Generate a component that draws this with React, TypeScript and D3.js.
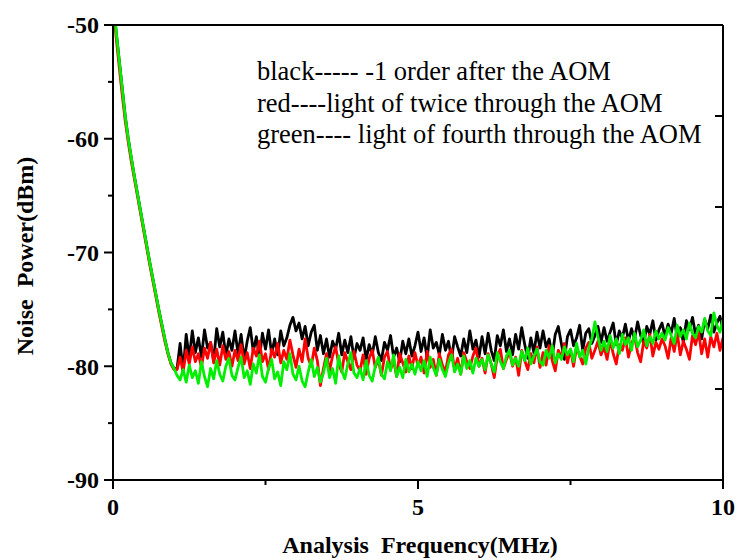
import React from "react";
import * as d3 from "d3";

const rollFreq = [0, 0.05, 0.1, 0.15, 0.2, 0.25, 0.3, 0.35, 0.4, 0.45, 0.5, 0.55, 0.6, 0.65, 0.7, 0.75, 0.8, 0.85, 0.9, 0.95, 1.0];
const rollOff = [-47.5, -50.5, -53, -55.5, -58, -60, -61.7, -63.3, -64.8, -66.3, -67.8, -69.3, -70.8, -72.2, -73.6, -75, -76.3, -77.6, -78.8, -79.7, -80.2];
const rollOffRed = [-48, -51, -53.6, -56.1, -58.4, -60.3, -62, -63.5, -65, -66.5, -68, -69.5, -71, -72.4, -73.8, -75.2, -76.5, -77.8, -78.9, -79.8, -80.3];

const blackNoise = [
  -80.2, -78.0, -80.4, -77.2, -79.3, -76.9, -78.8, -77.5, -79.2, -76.8, -78.4, -77.9, -79.5, -76.7, -78.3, -77.0, -79.1, -77.6, -78.6, -76.9,
  -78.9, -77.2, -79.4, -77.8, -76.6, -78.7, -77.4, -79.3, -77.1, -78.5, -76.8, -78.9, -77.6, -79.0, -76.9, -78.2, -77.5, -76.4, -75.7, -76.9,
  -76.2, -77.6, -76.5, -78.2, -77.0, -76.4, -78.6, -77.3, -78.9, -77.6, -79.2, -77.8, -78.5, -77.1, -79.0, -77.7, -78.8, -77.4, -79.3, -78.0,
  -78.6, -77.5, -79.4, -78.1, -79.0, -77.4, -78.8, -79.5, -77.9, -78.6, -77.3, -79.2, -78.4, -79.6, -77.8, -78.9, -77.6, -79.1, -78.2, -77.0,
  -78.7, -77.5, -79.3, -76.8, -78.4, -77.9, -79.0, -77.2, -78.6, -77.8, -79.4, -77.4, -78.3, -79.1, -77.6, -78.8, -76.9, -78.5, -77.7, -79.2,
  -77.4, -78.9, -77.1, -78.6, -79.5, -77.3, -78.2, -76.8, -78.7, -77.6, -79.0, -77.2, -78.5, -76.6, -78.1, -79.3, -77.5, -78.8, -77.0, -78.4,
  -76.9, -78.3, -77.6, -79.1, -77.2, -76.5, -78.0, -79.4, -77.4, -76.8, -78.2, -77.5, -76.4, -78.6, -77.1, -76.7, -78.0, -77.3, -76.5, -77.9,
  -76.6, -77.8, -77.0, -76.2, -78.1, -76.9, -77.5, -76.3, -77.8, -76.7, -77.6, -76.1, -77.3, -78.0, -76.5, -77.2, -76.0, -77.7, -76.8, -76.2,
  -77.4, -76.3, -77.1, -75.8, -77.5, -76.6, -77.9, -76.0, -76.8, -75.7, -77.2, -76.4, -77.6, -75.9, -76.7, -75.5, -77.0, -76.2, -75.6, -76.8,
];

const redNoise = [
  -80.3, -79.2, -80.5, -78.6, -79.8, -78.3, -79.6, -78.9, -80.1, -78.4, -79.3, -77.9, -79.7, -78.5, -79.9, -78.2, -79.4, -78.7, -80.0, -78.6,
  -79.5, -78.1, -79.8, -78.8, -80.2, -78.4, -79.1, -77.8, -79.6, -78.9, -80.3, -78.5, -79.2, -78.0, -79.7, -78.6, -79.4, -77.7, -79.0, -80.1,
  -78.5, -79.6, -77.6, -79.3, -80.0, -78.4, -79.5, -81.7, -80.2, -78.9, -80.4, -79.1, -78.3, -79.8, -80.5, -78.8, -79.6, -80.3, -78.7, -79.9,
  -80.4, -79.0, -80.7, -79.3, -78.6, -80.1, -79.4, -80.8, -79.2, -78.7, -80.3, -79.5, -80.9, -78.9, -79.7, -80.5, -79.1, -80.2, -78.8, -80.0,
  -79.2, -80.6, -78.7, -80.1, -79.4, -80.8, -78.9, -79.9, -80.5, -79.0, -78.5, -80.3, -79.3, -80.7, -78.8, -79.6, -80.2, -79.1, -78.4, -80.0,
  -79.3, -80.6, -78.9, -79.8, -81.0, -79.1, -78.5, -80.2, -79.4, -78.7, -80.0, -79.2, -80.8, -78.6, -79.5, -80.3, -78.9, -79.7, -78.3, -80.1,
  -78.8, -79.9, -78.2, -79.5, -80.4, -78.6, -79.2, -78.0, -79.7, -78.5, -80.0, -78.3, -79.1, -79.8, -78.4, -77.9, -79.3, -78.6, -77.8, -79.0,
  -78.3, -79.4, -77.7, -78.9, -79.8, -78.1, -78.6, -77.5, -79.2, -78.0, -77.4, -78.8, -79.6, -77.8, -78.4, -77.2, -79.1, -77.9, -78.5, -77.6,
  -78.2, -79.3, -77.5, -78.7, -77.1, -79.0, -77.8, -78.5, -79.4, -77.3, -78.1, -77.0, -78.9, -77.6, -79.2, -77.4, -78.3, -77.1, -78.6, -77.5,
];

const greenNoise = [
  -80.8, -81.2, -80.3, -81.4, -79.9, -81.0, -80.4, -81.5, -79.6, -80.9, -81.8, -80.2, -81.1, -79.5, -80.7, -81.3, -80.0, -79.3, -80.8, -81.2,
  -80.1, -79.2, -81.0, -80.4, -81.6, -79.8, -80.6, -79.0, -80.9, -81.4, -80.2, -79.4, -81.1, -80.5, -81.7, -79.6, -80.3, -78.9, -80.7, -81.2,
  -80.0, -81.3, -81.8, -80.5, -79.4, -80.9, -80.1, -81.4, -80.6, -79.3, -81.0, -80.2, -81.5, -79.1, -80.4, -81.1, -79.8, -78.8, -80.6, -81.0,
  -80.2, -81.2, -79.5, -80.8, -81.3, -80.0, -79.2, -80.7, -81.1, -79.6, -80.4, -79.0, -80.9, -80.1, -81.0, -79.4, -80.5, -79.8, -80.7, -79.6,
  -80.4, -79.5, -80.9, -79.2, -80.1, -80.8, -79.4, -80.3, -80.9, -79.7, -79.0, -80.5, -79.8, -80.7, -79.1, -80.2, -79.5, -80.6, -79.3, -80.0,
  -79.4, -80.3, -79.0, -79.8, -80.5, -78.8, -79.6, -80.2, -79.1, -78.6, -79.9, -79.3, -80.0, -78.7, -79.5, -78.4, -79.8, -79.1, -78.5, -79.6,
  -79.9, -78.6, -79.3, -78.2, -79.7, -78.9, -79.4, -78.3, -79.0, -78.5, -79.6, -78.0, -79.2, -78.6, -79.8, -78.4, -77.6, -76.1, -77.4, -78.6,
  -77.8, -78.7, -77.3, -78.4, -77.6, -78.9, -77.2, -78.1, -77.5, -78.6, -77.1, -78.3, -77.7, -76.8, -78.2, -77.4, -78.0, -76.9, -77.6, -77.1,
  -77.7, -76.6, -77.3, -78.0, -76.4, -77.4, -76.8, -77.6, -76.2, -77.1, -77.5, -76.5, -77.0, -75.8, -76.9, -77.3, -75.3, -76.4, -77.0, -75.9,
];

const noiseStart = 1.05;
const noiseStep = 0.05;

const xTickLabels = [0, 5, 10];
const xMinorTicks = [2.5, 7.5];
const yTickLabels = [-50, -60, -70, -80, -90];
const yMinorTicks = [-55, -65, -75, -85];
const rightTickFractions = [0.2, 0.4, 0.6, 0.8];

const legendLines = [
  "black----- -1 order after the AOM",
  "red----light of twice through the AOM",
  "green---- light of fourth through the AOM",
];

const W = 739;
const H = 560;
const margin = { left: 113, right: 15, top: 25, bottom: 80 };

function buildSeries(roll: number[], noise: number[]): [number, number][] {
  const pts: [number, number][] = rollFreq.map((f, i) => [f, roll[i]]);
  noise.forEach((v, i) => pts.push([+(noiseStart + i * noiseStep).toFixed(2), v]));
  return pts;
}

const FONT = "Liberation Serif, Tinos, Times New Roman, Times, DejaVu Serif, serif";

export default function App() {
  const x = d3.scaleLinear().domain([0, 10]).range([margin.left, W - margin.right - 1]);
  const y = d3.scaleLinear().domain([-90, -50]).range([H - margin.bottom, margin.top]);
  const line = d3
    .line<[number, number]>()
    .x((d) => x(d[0]))
    .y((d) => y(d[1]));

  const series = [
    { color: "#000000", data: buildSeries(rollOff, blackNoise) },
    { color: "#ff0000", data: buildSeries(rollOffRed, redNoise) },
    { color: "#00ee00", data: buildSeries(rollOff, greenNoise) },
  ];

  const x0 = x(0), x1 = x(10), yTop = y(-50), yBot = y(-90);
  const bold = { fontFamily: FONT, fontWeight: 700 as const };

  return (
    <svg width={W} height={H} style={{ position: "absolute", left: 0, top: 0, background: "#fff" }}>
      <defs>
        <clipPath id="plotClip">
          <rect x={x0} y={yTop} width={x1 - x0} height={yBot - yTop} />
        </clipPath>
      </defs>
      <g clipPath="url(#plotClip)">
        {series.map((s, i) => (
          <path key={i} d={line(s.data) || ""} fill="none" stroke={s.color} strokeWidth={2.8} strokeLinejoin="round" />
        ))}
      </g>
      <line x1={x0} x2={x1} y1={yTop} y2={yTop} stroke="#000" strokeWidth={2} />
      <line x1={x0} x2={x1} y1={yBot} y2={yBot} stroke="#000" strokeWidth={2} />
      <line x1={x0} x2={x0} y1={yTop} y2={yBot} stroke="#000" strokeWidth={2} />
      <line x1={x1} x2={x1} y1={yTop} y2={yBot} stroke="#000" strokeWidth={2} />
      {yTickLabels.map((v) => (
        <g key={v}>
          <line x1={x0 - 9} x2={x0} y1={y(v)} y2={y(v)} stroke="#000" strokeWidth={2} />
          <text x={x0 - 14} y={y(v)} dy="0.35em" textAnchor="end" fontSize={24} style={bold}>
            {v}
          </text>
        </g>
      ))}
      {yMinorTicks.map((v) => (
        <line key={v} x1={x0 - 5} x2={x0} y1={y(v)} y2={y(v)} stroke="#000" strokeWidth={2} />
      ))}
      {rightTickFractions.map((f) => {
        const yy = yTop + f * (yBot - yTop);
        return <line key={f} x1={x1 - 8} x2={x1} y1={yy} y2={yy} stroke="#000" strokeWidth={2} />;
      })}
      {xTickLabels.map((v) => (
        <g key={v}>
          <line x1={x(v)} x2={x(v)} y1={yBot} y2={yBot + 9} stroke="#000" strokeWidth={2} />
          <text x={x(v)} y={yBot + 35} textAnchor="middle" fontSize={24} style={bold}>
            {v}
          </text>
        </g>
      ))}
      {xMinorTicks.map((v) => (
        <line key={v} x1={x(v)} x2={x(v)} y1={yBot} y2={yBot + 5} stroke="#000" strokeWidth={2} />
      ))}
      <text x={420} y={553} textAnchor="middle" fontSize={24} style={{ ...bold, whiteSpace: "pre" }}>
        {"Analysis  Frequency(MHz)"}
      </text>
      <text transform={`translate(33, 256) rotate(-90)`} textAnchor="middle" fontSize={24} style={{ ...bold, whiteSpace: "pre" }}>
        {"Noise  Power(dBm)"}
      </text>
      {legendLines.map((t, i) => (
        <text key={i} x={257} y={80 + i * 31.5} fontSize={26.5} style={{ fontFamily: FONT, whiteSpace: "pre" }}>
          {t}
        </text>
      ))}
    </svg>
  );
}
